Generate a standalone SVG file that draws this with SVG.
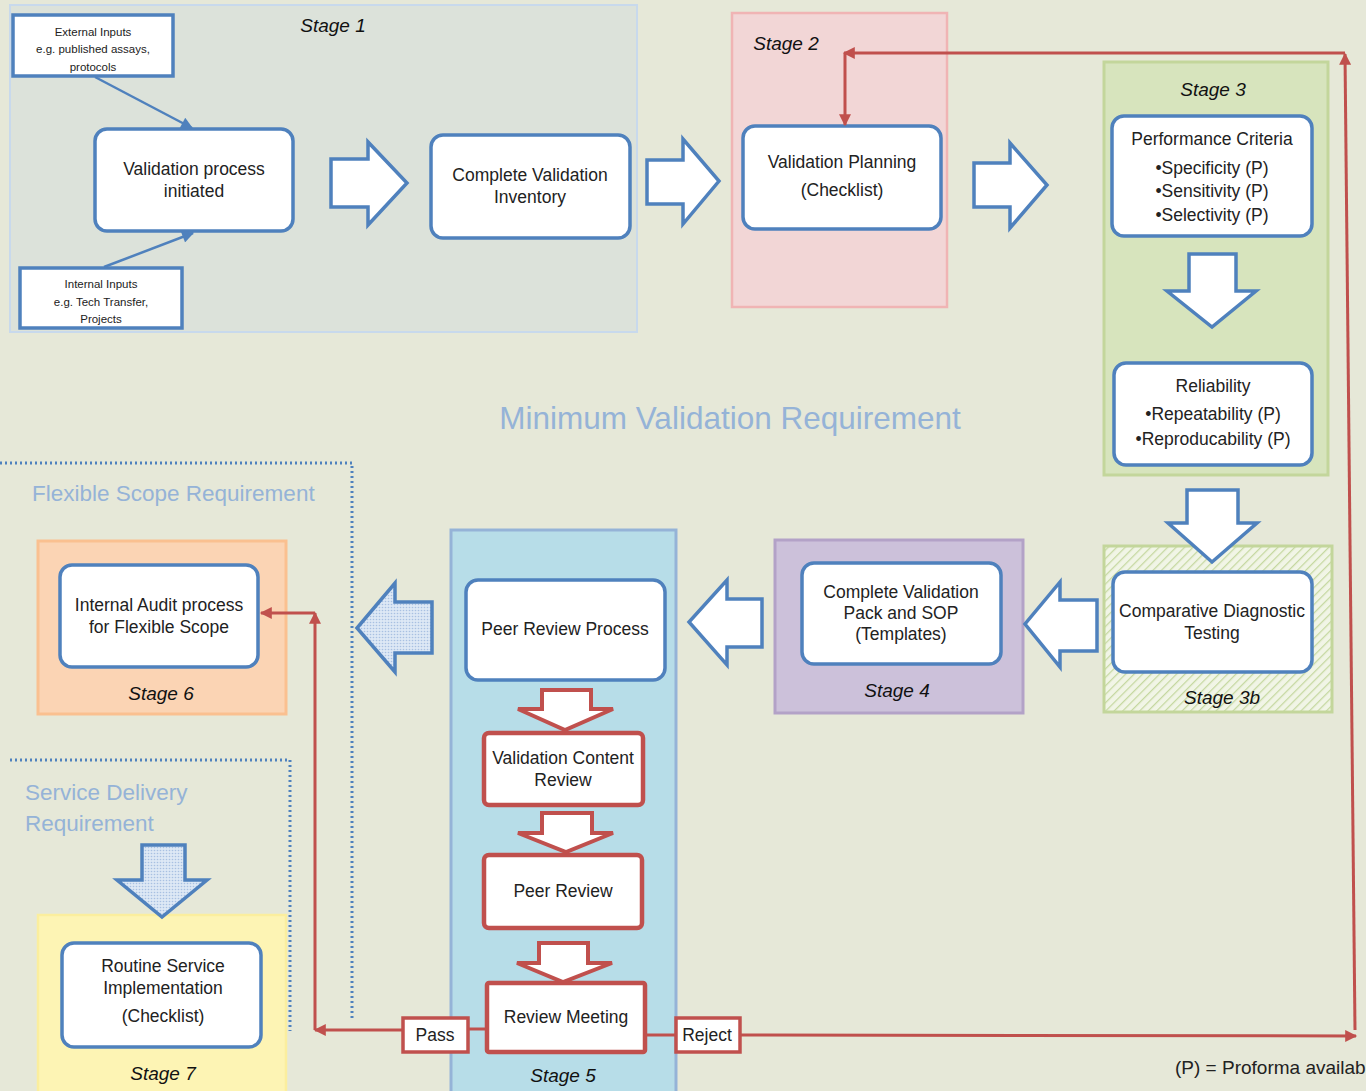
<svg xmlns="http://www.w3.org/2000/svg" width="1366" height="1091" viewBox="0 0 1366 1091">
<defs>
<style>
text{font-family:"Liberation Sans",Arial,sans-serif;fill:#222;}
.t{font-size:17.5px;text-anchor:middle;}
.ts{font-size:11.5px;text-anchor:middle;}
.st{font-size:19px;font-style:italic;text-anchor:middle;fill:#111;}
.req{fill:#95b3d7;font-size:22.5px;}
.box{fill:#fff;stroke:#4f81bd;stroke-width:3.5;}
.rbox{fill:#fff;stroke:#c0504d;stroke-width:4.5;}
.barrow{fill:#fff;stroke:#4f81bd;stroke-width:3.5;stroke-linejoin:miter;}
.rarrow{fill:#fff;stroke:#c0504d;stroke-width:4;stroke-linejoin:miter;}
.darrow{fill:url(#dots);stroke:#4f81bd;stroke-width:3.5;}
.red{stroke:#c0504d;stroke-width:3;fill:none;}
.blue{stroke:#4f81bd;stroke-width:2.5;fill:none;}
.dotted{stroke:#4f81bd;stroke-width:3;fill:none;stroke-dasharray:2 3;}
</style>
<marker id="ra" viewBox="0 0 10 10" refX="9" refY="5" markerWidth="14" markerHeight="12" markerUnits="userSpaceOnUse" orient="auto"><path d="M0,0 L10,5 L0,10 z" fill="#c0504d"/></marker>
<marker id="ba" viewBox="0 0 10 10" refX="9" refY="5" markerWidth="14" markerHeight="12" markerUnits="userSpaceOnUse" orient="auto"><path d="M0,0 L10,5 L0,10 z" fill="#4f81bd"/></marker>
<pattern id="hatch" width="6" height="6" patternUnits="userSpaceOnUse" patternTransform="rotate(45)"><rect width="6" height="6" fill="#f1f5e6"/><line x1="0" y1="0" x2="0" y2="6" stroke="#c5d8a0" stroke-width="2.5"/></pattern>
<pattern id="dots" width="3" height="3" patternUnits="userSpaceOnUse"><rect width="3" height="3" fill="#dde8f5"/><circle cx="1.5" cy="1.5" r="0.8" fill="#a8c0e2"/></pattern>
</defs>
<rect width="1366" height="1091" fill="#e6e8d8"/>

<g id="stage1">
<rect x="10" y="5" width="627" height="327" fill="#dce2da" stroke="#c8d9ec" stroke-width="2"/>
<text class="st" x="333" y="32">Stage 1</text>
</g>
<g id="stage2">
<rect x="732" y="13" width="215" height="294" fill="#f2d6d6" stroke="#f0b4b4" stroke-width="2.5"/>
<text class="st" x="786" y="50">Stage 2</text>
</g>
<g id="stage3">
<rect x="1104" y="62" width="224" height="413" fill="#d7e4bd" stroke="#c3d69b" stroke-width="3"/>
<text class="st" x="1213" y="96">Stage 3</text>
</g>
<g id="stage3b">
<rect x="1104" y="546" width="228" height="166" fill="url(#hatch)" stroke="#c3d69b" stroke-width="3"/>
<text class="st" x="1222" y="704">Stage 3b</text>
</g>
<g id="stage4">
<rect x="775" y="540" width="248" height="173" fill="#ccc1da" stroke="#b3a2c7" stroke-width="3"/>
<text class="st" x="897" y="697">Stage 4</text>
</g>
<g id="stage5">
<rect x="451" y="530" width="225" height="565" fill="#b7dde8" stroke="#95b3d7" stroke-width="3"/>
<text class="st" x="563" y="1082">Stage 5</text>
</g>
<g id="stage6">
<rect x="38" y="541" width="248" height="173" fill="#fbd4b4" stroke="#fac090" stroke-width="3"/>
<text class="st" x="161" y="700">Stage 6</text>
</g>
<g id="stage7">
<rect x="38" y="915" width="248" height="180" fill="#fdf4b4" stroke="#fbee9e" stroke-width="2.5"/>
<text class="st" x="163" y="1080">Stage 7</text>
</g>

<g id="requirements">
<text x="730" y="429" font-size="31.5" text-anchor="middle" style="fill:#95b3d7">Minimum Validation Requirement</text>
<text class="req" x="32" y="501">Flexible Scope Requirement</text>
<text class="req" x="25" y="800">Service Delivery</text>
<text class="req" x="25" y="831">Requirement</text>
<path class="dotted" d="M0,463 H352 V1020"/>
<path class="dotted" d="M10,760 H290 V1031"/>
</g>

<g id="external-inputs">
<rect x="13" y="15" width="160" height="61" fill="#fff" stroke="#4f81bd" stroke-width="3.5"/>
<text class="ts" x="93" y="36">External Inputs</text>
<text class="ts" x="93" y="53">e.g. published assays,</text>
<text class="ts" x="93" y="71">protocols</text>
</g>
<g id="internal-inputs">
<rect x="20" y="268" width="162" height="60" fill="#fff" stroke="#4f81bd" stroke-width="3.5"/>
<text class="ts" x="101" y="288">Internal Inputs</text>
<text class="ts" x="101" y="306">e.g. Tech Transfer,</text>
<text class="ts" x="101" y="323">Projects</text>
</g>
<g id="validation-initiated">
<rect class="box" x="95" y="129" width="198" height="102" rx="12"/>
<text class="t" x="194" y="175" font-size="18.5">Validation process</text>
<text class="t" x="194" y="197" font-size="18.5">initiated</text>
</g>
<g id="validation-inventory">
<rect class="box" x="431" y="135" width="199" height="103" rx="12"/>
<text class="t" x="530" y="181">Complete Validation</text>
<text class="t" x="530" y="203">Inventory</text>
</g>
<g id="validation-planning">
<rect class="box" x="743" y="126" width="198" height="103" rx="12"/>
<text class="t" x="842" y="168">Validation Planning</text>
<text class="t" x="842" y="196">(Checklist)</text>
</g>
<g id="performance-criteria">
<rect class="box" x="1112" y="116" width="200" height="120" rx="12"/>
<text class="t" x="1212" y="145">Performance Criteria</text>
<text class="t" x="1212" y="174">•Specificity (P)</text>
<text class="t" x="1212" y="197">•Sensitivity (P)</text>
<text class="t" x="1212" y="221">•Selectivity (P)</text>
</g>
<g id="reliability">
<rect class="box" x="1114" y="363" width="198" height="102" rx="12"/>
<text class="t" x="1213" y="392">Reliability</text>
<text class="t" x="1213" y="420">•Repeatability (P)</text>
<text class="t" x="1213" y="445">•Reproducability (P)</text>
</g>
<g id="comparative-testing">
<rect class="box" x="1113" y="572" width="199" height="100" rx="12"/>
<text class="t" x="1212" y="617">Comparative Diagnostic</text>
<text class="t" x="1212" y="639">Testing</text>
</g>
<g id="validation-pack">
<rect class="box" x="802" y="563" width="199" height="101" rx="12"/>
<text class="t" x="901" y="598">Complete Validation</text>
<text class="t" x="901" y="619">Pack and  SOP</text>
<text class="t" x="901" y="640">(Templates)</text>
</g>
<g id="peer-review-process">
<rect class="box" x="466" y="580" width="199" height="100" rx="12"/>
<text class="t" x="565" y="635">Peer Review Process</text>
</g>
<g id="validation-content-review">
<rect class="rbox" x="484" y="733" width="159" height="72" rx="5"/>
<text class="t" x="563" y="764">Validation Content</text>
<text class="t" x="563" y="786">Review</text>
</g>
<g id="peer-review">
<rect class="rbox" x="484" y="855" width="158" height="73" rx="5"/>
<text class="t" x="563" y="897">Peer Review</text>
</g>
<g id="review-meeting">
<rect class="rbox" x="487" y="983" width="158" height="69" rx="2"/>
<text class="t" x="566" y="1023">Review Meeting</text>
</g>
<g id="pass">
<rect x="403" y="1018" width="65" height="34" fill="#fff" stroke="#c0504d" stroke-width="3.5"/>
<text class="t" x="435" y="1041">Pass</text>
</g>
<g id="reject">
<rect x="676" y="1018" width="64" height="34" fill="#fff" stroke="#c0504d" stroke-width="3.5"/>
<text class="t" x="707" y="1041">Reject</text>
</g>
<g id="internal-audit">
<rect class="box" x="60" y="565" width="198" height="102" rx="12"/>
<text class="t" x="159" y="611">Internal Audit process</text>
<text class="t" x="159" y="633">for Flexible Scope</text>
</g>
<g id="routine-service">
<rect class="box" x="62" y="943" width="199" height="104" rx="12"/>
<text class="t" x="163" y="972">Routine Service</text>
<text class="t" x="163" y="994">Implementation</text>
<text class="t" x="163" y="1022">(Checklist)</text>
</g>
<g id="legend">
<text x="1175" y="1074" font-size="19">(P) = Proforma availab</text>
</g>

<g id="connectors">
<line class="blue" x1="95" y1="77" x2="192" y2="128" marker-end="url(#ba)"/>
<line class="blue" x1="104" y1="267" x2="193" y2="233" marker-end="url(#ba)"/>
<polygon class="barrow" points="331,159 368,159 368,142 407,183 368,225 368,207 331,207"/>
<polygon class="barrow" points="647,160 683,160 683,139 719,181 683,224 683,204 647,204"/>
<polygon class="barrow" points="974,163 1010,163 1010,143 1047,185 1010,228 1010,207 974,207"/>
<polygon class="barrow" points="1189,254 1236,254 1236,291 1256,291 1212,327 1167,291 1189,291"/>
<polygon class="barrow" points="1187,490 1238,490 1238,523 1257,523 1212,562 1168,523 1187,523"/>
<polygon class="barrow" points="1097,600 1060,600 1060,582 1025,624 1060,667 1060,651 1097,651"/>
<polygon class="barrow" points="762,599 727,599 727,580 689,622 727,665 727,647 762,647"/>
<polygon class="darrow" points="432,602 395,602 395,583 357,628 395,672 395,653 432,653"/>
<polygon class="darrow" points="142,845 185,845 185,880 207,880 162,917 117,880 142,880"/>
<polygon class="rarrow" points="542,690 591,690 591,709 613,709 565,730 518,709 542,709"/>
<polygon class="rarrow" points="542,813 592,813 592,833 613,833 566,852 518,833 542,833"/>
<polygon class="rarrow" points="539,943 588,943 588,963 612,963 563,982 517,963 539,963"/>
<line class="red" x1="487" y1="1029" x2="468" y2="1029"/>
<line class="red" x1="403" y1="1030" x2="315" y2="1030" marker-end="url(#ra)"/>
<line class="red" x1="315" y1="1030" x2="315" y2="613" marker-end="url(#ra)"/>
<line class="red" x1="315" y1="613" x2="261" y2="613" marker-end="url(#ra)"/>
<line class="red" x1="645" y1="1035" x2="676" y2="1035"/>
<line class="red" x1="740" y1="1035" x2="1356" y2="1036" marker-end="url(#ra)"/>
<line class="red" x1="1355" y1="1030" x2="1345" y2="54" marker-end="url(#ra)"/>
<line class="red" x1="1345" y1="53" x2="844" y2="53" marker-end="url(#ra)"/>
<line class="red" x1="845" y1="53" x2="845" y2="125" marker-end="url(#ra)"/>
</g>
</svg>
